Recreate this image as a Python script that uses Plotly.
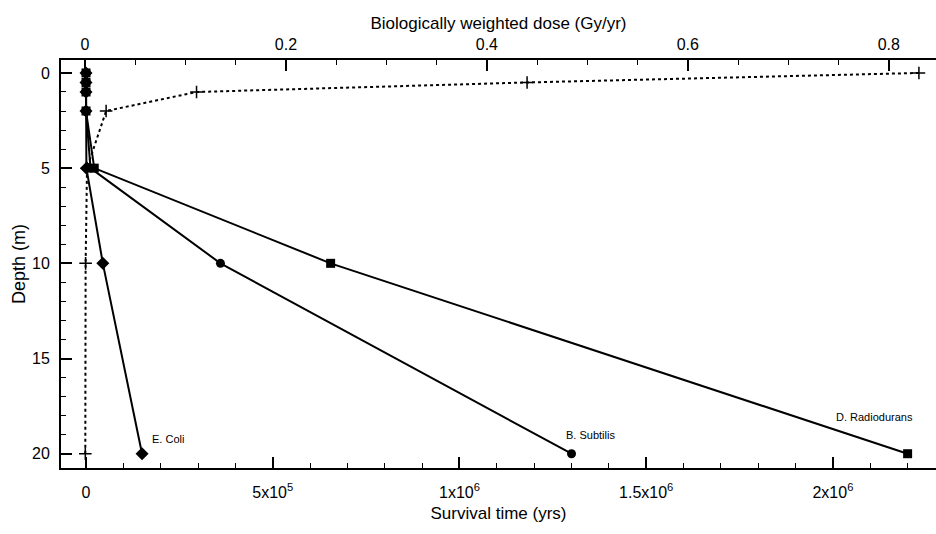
import plotly.graph_objects as go

# Data
depth = [0, 0.5, 1, 2, 5, 10, 20]
dose = [0.83, 0.44, 0.111, 0.021, 0.002, 0.0006, 0.0003]          # Gy/yr (top axis)
e_coli = [0, 0, 0, 0, 1000, 45000, 150000]                         # yrs
b_subtilis = [0, 0, 0, 0, 12000, 360000, 1300000]
d_radiodurans = [0, 0, 0, 0, 22000, 655000, 2200000]

bottom_tickvals = [0, 5e5, 1e6, 1.5e6, 2e6]
bottom_ticktext = ["0", "5x10<sup>5</sup>", "1x10<sup>6</sup>", "1.5x10<sup>6</sup>", "2x10<sup>6</sup>"]
top_tickvals = [0, 0.2, 0.4, 0.6, 0.8]
top_ticktext = ["0", "0.2", "0.4", "0.6", "0.8"]

labels = ["E. Coli", "B. Subtilis", "D. Radiodurans"]
label_x = [1.72e5, 1.35e6, 2.11e6]
label_y = [19.25, 19.0, 18.05]
label_anchor = ["left", "center", "center"]

FONT = "Liberation Sans, Arial, sans-serif"

fig = go.Figure()

fig.add_trace(go.Scatter(
    x=dose, y=depth, xaxis="x2", yaxis="y", mode="lines+markers",
    line=dict(color="black", width=2, dash="dot"),
    marker=dict(symbol="cross-thin", size=9, line=dict(color="black", width=1.5), color="black"),
    showlegend=False, cliponaxis=False,
))
fig.add_trace(go.Scatter(
    x=e_coli, y=depth, mode="lines+markers",
    line=dict(color="black", width=2),
    marker=dict(symbol="diamond", size=10, color="black"),
    showlegend=False, cliponaxis=False,
))
fig.add_trace(go.Scatter(
    x=b_subtilis, y=depth, mode="lines+markers",
    line=dict(color="black", width=2),
    marker=dict(symbol="circle", size=9, color="black"),
    showlegend=False, cliponaxis=False,
))
fig.add_trace(go.Scatter(
    x=d_radiodurans, y=depth, mode="lines+markers",
    line=dict(color="black", width=2),
    marker=dict(symbol="square", size=9, color="black"),
    showlegend=False, cliponaxis=False,
))

for t, x, y, a in zip(labels, label_x, label_y, label_anchor):
    fig.add_annotation(x=x, y=y, xref="x", yref="y", text=t, showarrow=False,
                       xanchor=a, yanchor="middle",
                       font=dict(family=FONT, size=11, color="black"))

fig.update_layout(
    width=936, height=534,
    margin=dict(l=61, r=0, t=60, b=66),
    paper_bgcolor="white", plot_bgcolor="white",
    font=dict(family=FONT, size=15, color="black"),
    xaxis=dict(
        range=[-6.7e4, 2.276e6], showgrid=False, zeroline=False,
        showline=True, linecolor="black", linewidth=2,
        ticks="inside", ticklen=11, tickwidth=2, tickcolor="black",
        tickvals=bottom_tickvals, ticktext=bottom_ticktext,
        minor=dict(dtick=1e5, tick0=0, ticks="inside", ticklen=5, tickwidth=1, tickcolor="black", showgrid=False),
        ticklabelstandoff=9,
        title=dict(text="Survival time (yrs)", font=dict(size=17), standoff=7),
        tickfont=dict(size=16),
    ),
    xaxis2=dict(
        range=[-0.0239, 0.847], overlaying="x", side="top", anchor="y",
        showgrid=False, zeroline=False,
        showline=True, linecolor="black", linewidth=2,
        ticks="inside", ticklen=11, tickwidth=2, tickcolor="black",
        tickvals=top_tickvals, ticktext=top_ticktext,
        minor=dict(dtick=0.05, tick0=0, ticks="inside", ticklen=5, tickwidth=1, tickcolor="black", showgrid=False),
        ticklabelstandoff=2,
        title=dict(text="Biologically weighted dose (Gy/yr)", font=dict(size=17), standoff=2),
        tickfont=dict(size=16),
    ),
    yaxis=dict(
        range=[20.75, -0.68], showgrid=False, zeroline=False,
        showline=True, linecolor="black", linewidth=2,
        ticks="inside", ticklen=11, tickwidth=2, tickcolor="black",
        tickvals=[0, 5, 10, 15, 20],
        minor=dict(dtick=1, tick0=0, ticks="inside", ticklen=5, tickwidth=1, tickcolor="black", showgrid=False),
        ticklabelstandoff=6,
        title=dict(text="Depth (m)", font=dict(size=18), standoff=2),
        tickfont=dict(size=16),
    ),
)

fig.write_html("out.html")
